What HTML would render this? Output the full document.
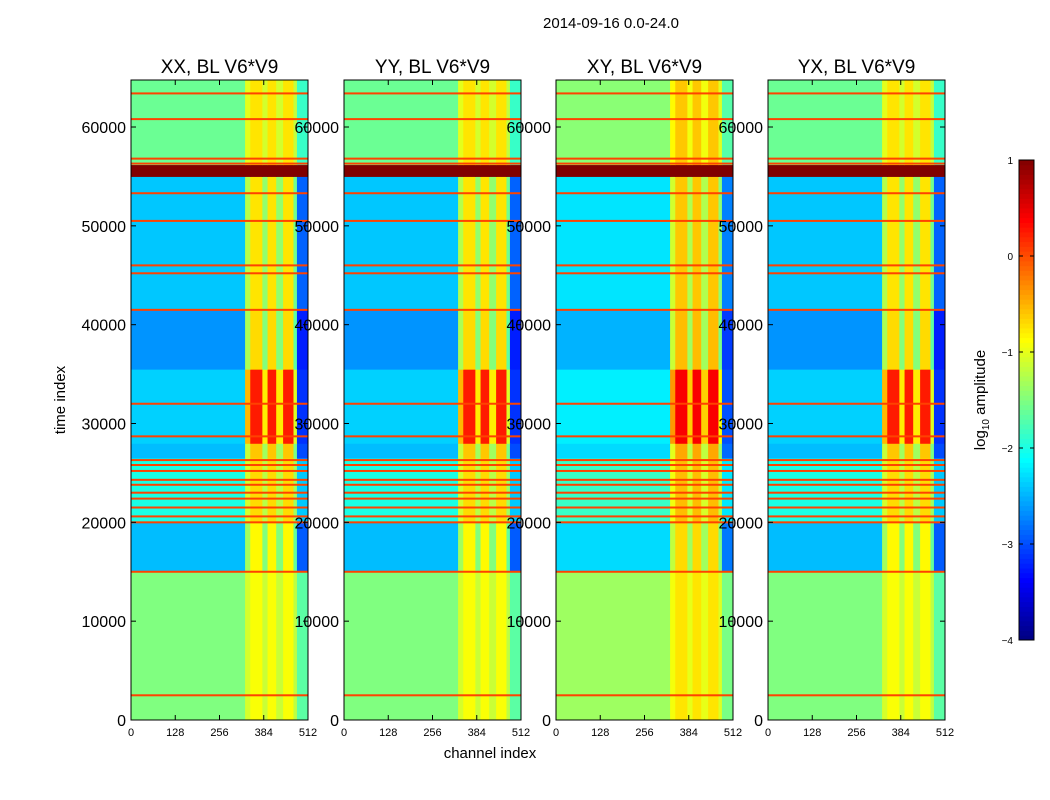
<!DOCTYPE html>
<html><head><meta charset="utf-8"><style>
body{margin:0;background:#fff;font-family:"Liberation Sans",sans-serif}
svg{display:block}
</style></head><body>
<svg id="c" width="1050" height="800" xmlns="http://www.w3.org/2000/svg">
<rect width="1050" height="800" fill="#fff"/>
<text x="611" y="28" font-size="15" text-anchor="middle">2014-09-16 0.0-24.0</text>
<text x="490" y="758" font-size="15" text-anchor="middle">channel index</text>
<text transform="translate(65,400) rotate(-90)" font-size="15" text-anchor="middle">time index</text>
<g id="plots"></g>
<g id="cbar"></g>
</svg>
<script>
const panelTitles=["XX, BL V6*V9","YY, BL V6*V9","XY, BL V6*V9","YX, BL V6*V9"];
const panelOffset=[0,0.0,0.15,0];
const rowEdges=[0,15000,20000,26500,28000,35500,41500,55000,56200,65000];
const bgLevel=[-1.5,-2.45,-2.0,-2.45,-2.35,-2.65,-2.4,1.0,-1.6];
const brightLevel=[-0.9,-0.85,-0.7,-0.6,0.25,-0.7,-0.75,1.0,-0.75];
const chanEdges=[0,330,345,380,395,420,440,470,480,512];
const chanWeight=[0,0.7,1,0.6,1,0.6,1,0.5,-0.3];
const lineTimes=[2500,15000,20000,20600,21500,22400,23000,23800,24300,25200,25800,26300,28700,32000,41500,45200,46000,50500,53300,56300,56800,60800,63400];
const xTicks=[0,128,256,384,512];
const yTicks=[0,10000,20000,30000,40000,50000,60000];
const cbTicks=[1,0,-1,-2,-3,-4];
const panelX=[131,344,556,768],PW=177,PT=80,PB=720,TMAX=64757,CMAX=512;
const NS="http://www.w3.org/2000/svg";
function jet(v){let t=(v+4)/5;t=Math.max(0,Math.min(1,t));
 const r=Math.max(0,Math.min(1,1.5-Math.abs(4*t-3))),g=Math.max(0,Math.min(1,1.5-Math.abs(4*t-2))),b=Math.max(0,Math.min(1,1.5-Math.abs(4*t-1)));
 return `rgb(${Math.round(r*255)},${Math.round(g*255)},${Math.round(b*255)})`;}
function mk(tag,attrs,parent){const e=document.createElementNS(NS,tag);for(const k in attrs)e.setAttribute(k,attrs[k]);parent.appendChild(e);return e;}
const yS=t=>PB-(t/TMAX)*(PB-PT);
const plots=document.getElementById('plots');
panelX.forEach((x0,p)=>{
 const xS=c=>x0+c/CMAX*PW;
 const g=mk('g',{},plots);
 
 
 for(let r=0;r<bgLevel.length;r++){
  const t0=rowEdges[r],t1=Math.min(rowEdges[r+1],TMAX);
  for(let c=0;c<chanWeight.length;c++){
   let v=bgLevel[r]+chanWeight[c]*(brightLevel[r]-bgLevel[r]);
   if(bgLevel[r]<0)v+=panelOffset[p];
   const rc=mk('rect',{x:xS(chanEdges[c]),y:yS(t1),width:xS(chanEdges[c+1])-xS(chanEdges[c])+0.5,height:yS(t0)-yS(t1)+0.5,fill:jet(v)},g);
   
   
  }
 }
 lineTimes.forEach(t=>{const l=mk('rect',{x:x0,y:yS(t)-1,width:PW,height:2,fill:jet(0.05)},g);
  
  });
 mk('rect',{x:x0,y:PT,width:PW,height:PB-PT,fill:'none',stroke:'#000','stroke-width':1},g);
 const tt=mk('text',{x:x0+PW/2,y:73,'font-size':19,'text-anchor':'middle'},g);tt.textContent=panelTitles[p];
 
 
 xTicks.forEach(v=>{const x=xS(v);mk('line',{x1:x,x2:x,y1:PB,y2:PB-5,stroke:'#000'},g);mk('line',{x1:x,x2:x,y1:PT,y2:PT+5,stroke:'#000'},g);
  const tx=mk('text',{x:x,y:PB+16,'font-size':11,'text-anchor':'middle'},g);tx.textContent=v;
  
  });
 yTicks.forEach(v=>{const y=yS(v);mk('line',{x1:x0,x2:x0+5,y1:y,y2:y,stroke:'#000'},g);mk('line',{x1:x0+PW,x2:x0+PW-5,y1:y,y2:y,stroke:'#000'},g);
  const ty=mk('text',{x:x0-5,y:y+6,'font-size':16,'text-anchor':'end'},g);ty.textContent=v;
  
  });
});
const cb=document.getElementById('cbar');
const CX=1019,CW=15,CT=160,CB=640;
const cy=v=>CB-(v+4)/5*(CB-CT);
for(let i=0;i<100;i++){const v0=-4+i*0.05;mk('rect',{x:CX,y:cy(v0+0.05),width:CW,height:(CB-CT)/100+0.5,fill:jet(v0+0.025)},cb);}
mk('rect',{x:CX,y:CT,width:CW,height:CB-CT,fill:'none',stroke:'#000'},cb);
cbTicks.forEach(v=>{const y=cy(v);mk('line',{x1:CX,x2:CX+4,y1:y,y2:y,stroke:'#000'},cb);mk('line',{x1:CX+CW,x2:CX+CW-4,y1:y,y2:y,stroke:'#000'},cb);
 const t=mk('text',{x:1013,y:y+4,'font-size':10,'text-anchor':'end'},cb);t.textContent=v<0?'\u2212'+(-v):v;
 
 });
const cl=mk('text',{transform:'translate(985,400) rotate(-90)','font-size':15,'text-anchor':'middle'},cb);
cl.innerHTML='log<tspan font-size="10" dy="4">10</tspan><tspan dy="-4"> amplitude</tspan>';




</script>
</body></html>
